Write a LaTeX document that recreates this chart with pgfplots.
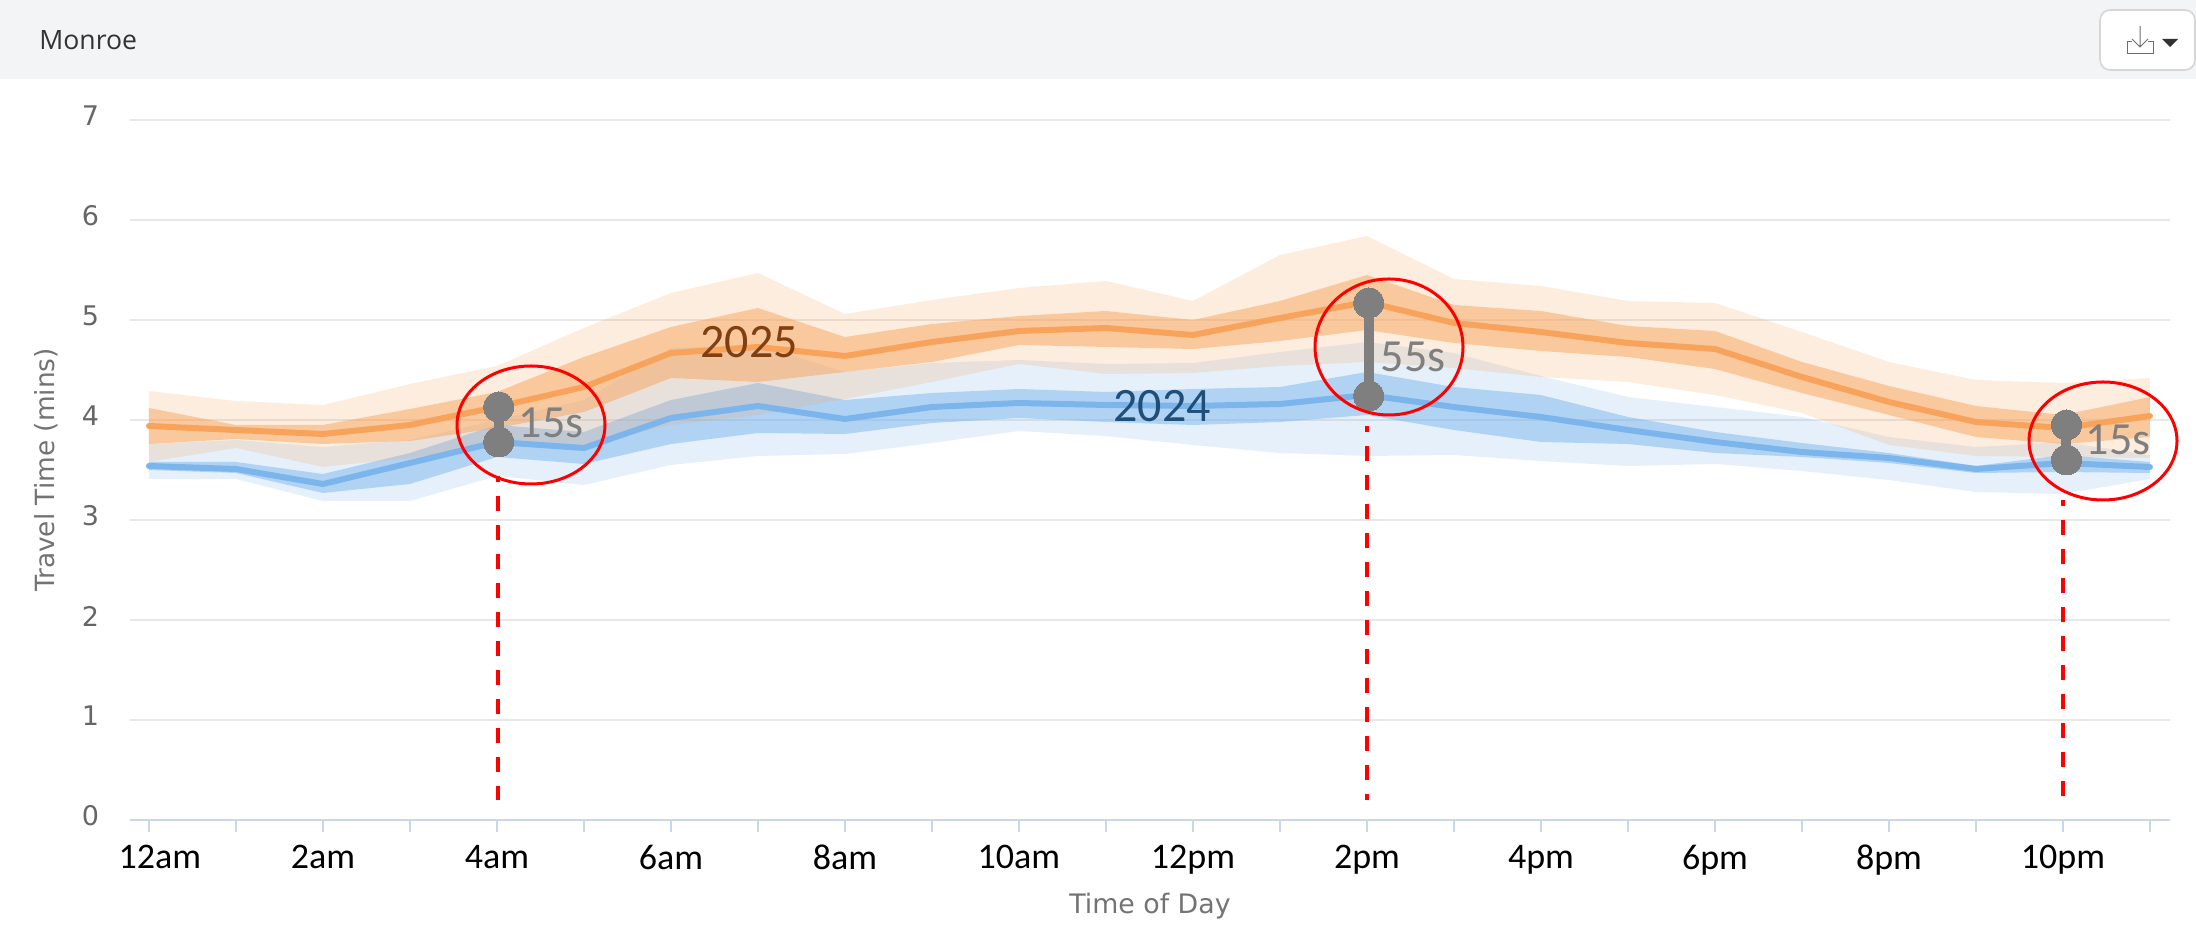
\documentclass[border=0pt]{standalone}
\usepackage{pgfplots}
\usepackage{pgfplotstable}
\usepackage{fontspec}
\pgfplotsset{compat=1.18}
\setmainfont{Open Sans}
\newfontfamily\carlito{Carlito}
\newfontfamily\dejavu{DejaVu Sans}
\definecolor{hcorange}{HTML}{F7A35C}
\definecolor{hcblue}{HTML}{7CB5EC}
\definecolor{dumb}{HTML}{7F7F7F}
\pgfplotstableread{
x m
0 3.94
1 3.90
2 3.86
3 3.95
4 4.13
5 4.33
6 4.67
7 4.73
8 4.64
9 4.78
10 4.89
11 4.92
12 4.85
13 5.02
14 5.18
15 4.97
16 4.88
17 4.77
18 4.71
19 4.43
20 4.18
21 3.98
22 3.92
23 4.04
}\yeartwentyfive
\pgfplotstableread{
x m
0 3.54
1 3.51
2 3.36
3 3.57
4 3.78
5 3.72
6 4.02
7 4.14
8 4.01
9 4.13
10 4.17
11 4.15
12 4.14
13 4.16
14 4.25
15 4.13
16 4.03
17 3.90
18 3.78
19 3.68
20 3.62
21 3.51
22 3.57
23 3.53
}\yeartwentyfour
\begin{document}
\begin{tikzpicture}
\path[use as bounding box] (0,0) rectangle (1098pt,468pt);
\begin{scope}[x=0.5pt,y=-0.5pt,yshift=468pt]
\fill[fill={rgb,255:red,243;green,244;blue,246}] (0,0) rectangle (2196,79);
\end{scope}
\begin{axis}[
  at={(65pt,58pt)},anchor=south west,
  scale only axis,width=1020pt,height=350pt,
  xmin=-0.218,xmax=23.23,ymin=0,ymax=7,
  axis x line*=bottom,axis y line*=left,
  axis line style={-},
  x axis line style={draw={rgb,255:red,204;green,214;blue,235},line width=1pt},
  y axis line style={draw=none},
  xtick={0,...,23},
  xticklabels={\hspace*{11pt}12am,,2am,,4am,,6am,,8am,,10am,,12pm,,2pm,,4pm,,6pm,,8pm,,10pm,},
  ytick={0,...,7},
  ymajorgrids,
  grid style={draw={rgb,255:red,232;green,232;blue,232},line width=1pt},
  tick align=outside,
  major tick length=6pt,
  x tick style={draw={rgb,255:red,204;green,214;blue,235},line width=0.7pt},
  y tick style={draw=none},
  xticklabel style={font=\carlito\fontsize{18}{20}\selectfont,text=black,yshift=-3pt},
  yticklabel style={font=\dejavu\fontsize{13.5}{15}\selectfont,text={rgb,255:red,102;green,102;blue,102},/pgf/number format/assume math mode=true,yshift=2pt,xshift=-6pt},
  xlabel={Time of Day},ylabel={Travel Time (mins)},
  xlabel style={at={(axis description cs:0.5,-0.123)},anchor=center,font=\dejavu\fontsize{13.4}{15}\selectfont,text={rgb,255:red,115;green,115;blue,115}},
  ylabel style={at={(axis description cs:-0.0412,0.50)},anchor=center,font=\dejavu\fontsize{13.2}{15}\selectfont,text={rgb,255:red,115;green,115;blue,115}},
  clip=false,
]
% 2024 outer band
\addplot[fill=hcblue,fill opacity=0.2,draw=none,forget plot] coordinates {
(0,3.76)(1,3.80)(2,3.73)(3,3.80)(4,4.00)(5,4.20)(6,4.72)(7,4.75)(8,4.48)(9,4.57)(10,4.60)(11,4.56)(12,4.57)(13,4.68)(14,4.78)(15,4.67)(16,4.44)(17,4.23)(18,4.13)(19,4.03)(20,3.83)(21,3.73)(22,3.78)(23,3.65)
(23,3.41)(22,3.26)(21,3.28)(20,3.40)(19,3.49)(18,3.56)(17,3.54)(16,3.59)(15,3.65)(14,3.64)(13,3.67)(12,3.75)(11,3.84)(10,3.89)(9,3.77)(8,3.66)(7,3.64)(6,3.55)(5,3.35)(4,3.44)(3,3.19)(2,3.19)(1,3.41)(0,3.41)};
% 2024 inner band
\addplot[fill=hcblue,fill opacity=0.5,draw=none,forget plot] coordinates {
(0,3.58)(1,3.58)(2,3.46)(3,3.67)(4,3.95)(5,3.88)(6,4.20)(7,4.37)(8,4.20)(9,4.27)(10,4.31)(11,4.28)(12,4.31)(13,4.33)(14,4.48)(15,4.33)(16,4.25)(17,4.03)(18,3.88)(19,3.77)(20,3.67)(21,3.54)(22,3.65)(23,3.58)
(23,3.47)(22,3.48)(21,3.47)(20,3.57)(19,3.63)(18,3.67)(17,3.76)(16,3.78)(15,3.90)(14,4.05)(13,3.98)(12,3.95)(11,3.98)(10,4.02)(9,3.97)(8,3.86)(7,3.87)(6,3.76)(5,3.56)(4,3.63)(3,3.36)(2,3.27)(1,3.47)(0,3.50)};
% 2025 outer band
\addplot[fill=hcorange,fill opacity=0.2,draw=none,forget plot] coordinates {
(0,4.29)(1,4.19)(2,4.15)(3,4.36)(4,4.54)(5,4.92)(6,5.27)(7,5.47)(8,5.06)(9,5.20)(10,5.32)(11,5.39)(12,5.19)(13,5.65)(14,5.84)(15,5.41)(16,5.34)(17,5.19)(18,5.17)(19,4.88)(20,4.58)(21,4.40)(22,4.37)(23,4.42)
(23,3.62)(22,3.63)(21,3.64)(20,3.75)(19,4.07)(18,4.25)(17,4.38)(16,4.43)(15,4.52)(14,4.58)(13,4.54)(12,4.47)(11,4.46)(10,4.56)(9,4.38)(8,4.21)(7,4.05)(6,3.95)(5,3.74)(4,3.75)(3,3.62)(2,3.53)(1,3.72)(0,3.58)};
% 2025 inner band
\addplot[fill=hcorange,fill opacity=0.5,draw=none,forget plot] coordinates {
(0,4.12)(1,3.95)(2,3.95)(3,4.11)(4,4.28)(5,4.63)(6,4.93)(7,5.12)(8,4.83)(9,4.96)(10,5.04)(11,5.09)(12,5.00)(13,5.19)(14,5.45)(15,5.15)(16,5.09)(17,4.94)(18,4.89)(19,4.58)(20,4.34)(21,4.14)(22,4.05)(23,4.23)
(23,3.83)(22,3.76)(21,3.83)(20,4.05)(19,4.27)(18,4.51)(17,4.63)(16,4.69)(15,4.77)(14,4.90)(13,4.79)(12,4.71)(11,4.73)(10,4.75)(9,4.58)(8,4.48)(7,4.38)(6,4.42)(5,4.08)(4,3.92)(3,3.79)(2,3.76)(1,3.81)(0,3.76)};
% medians
\addplot[hcblue,line width=3pt,line cap=round,line join=round,no marks] table[x=x,y=m]{\yeartwentyfour};
\addplot[hcorange,line width=3pt,line cap=round,line join=round,no marks] table[x=x,y=m]{\yeartwentyfive};
% dashed drop lines
\addplot[red,line width=2pt,dash pattern=on 7.5pt off 7pt,dash phase=4.5pt,no marks] coordinates {(4.01,3.44) (4.01,0.20)};
\addplot[red,line width=2pt,dash pattern=on 7.5pt off 7pt,dash phase=4.5pt,no marks] coordinates {(14.0,3.94) (14.0,0.20)};
\addplot[red,line width=2pt,dash pattern=on 7.5pt off 7pt,dash phase=4.5pt,no marks] coordinates {(22.0,3.20) (22.0,0.20)};
% dumbbells
\addplot[dumb,line width=5pt,mark=*,mark size=7.5pt,mark options={solid,fill=dumb,draw=none,line width=0pt}] coordinates {(4.02,3.78) (4.02,4.13)};
\addplot[dumb,line width=5pt,mark=*,mark size=7.5pt,mark options={solid,fill=dumb,draw=none,line width=0pt}] coordinates {(14.02,4.24) (14.02,5.17)};
\addplot[dumb,line width=5pt,mark=*,mark size=7.5pt,mark options={solid,fill=dumb,draw=none,line width=0pt}] coordinates {(22.04,3.60) (22.04,3.95)};
\end{axis}
\begin{scope}[x=0.5pt,y=-0.5pt,yshift=468pt]
\node[anchor=west,inner sep=0pt,text={rgb,255:red,51;green,51;blue,51},font=\fontsize{13.3}{16}\selectfont] at (39,40) {Monroe};
% button
\draw[draw={rgb,255:red,214;green,214;blue,214},line width=0.8pt,fill=white,rounded corners=5pt] (2100,10) rectangle (2195,70);
\draw[draw={rgb,255:red,110;green,110;blue,110},line width=0.5pt] (2148,42) -- (2153,42) -- (2153,54) -- (2127,54) -- (2127,42) -- (2132,42);
\draw[draw={rgb,255:red,110;green,110;blue,110},line width=0.5pt] (2140,26) -- (2140,47) (2132,39) -- (2140,47) -- (2148,39);
\fill[fill={rgb,255:red,50;green,50;blue,50}] (2162,39) -- (2178,39) -- (2170,47) -- cycle;
% ellipses
\draw[red,line width=1.5pt] (531,425) ellipse [x radius=74,y radius=59];
\draw[red,line width=1.5pt] (1389,347) ellipse [x radius=74,y radius=68];
\draw[red,line width=1.5pt] (2103,441) ellipse [x radius=74,y radius=59];
% texts
\node[font=\carlito\fontsize{23}{26}\selectfont,text=dumb,inner sep=0pt] at (551,423) {15s};
\node[font=\carlito\fontsize{23}{26}\selectfont,text=dumb,inner sep=0pt] at (1413,357) {55s};
\node[font=\carlito\fontsize{23}{26}\selectfont,text=dumb,inner sep=0pt] at (2118,440) {15s};
\node[font=\carlito\fontsize{24}{26}\selectfont,text={rgb,255:red,127;green,63;blue,16},inner sep=0pt] at (749,342) {2025};
\node[font=\carlito\fontsize{24}{26}\selectfont,text={rgb,255:red,31;green,78;blue,121},inner sep=0pt] at (1162,406) {2024};
\end{scope}
\end{tikzpicture}
\end{document}
